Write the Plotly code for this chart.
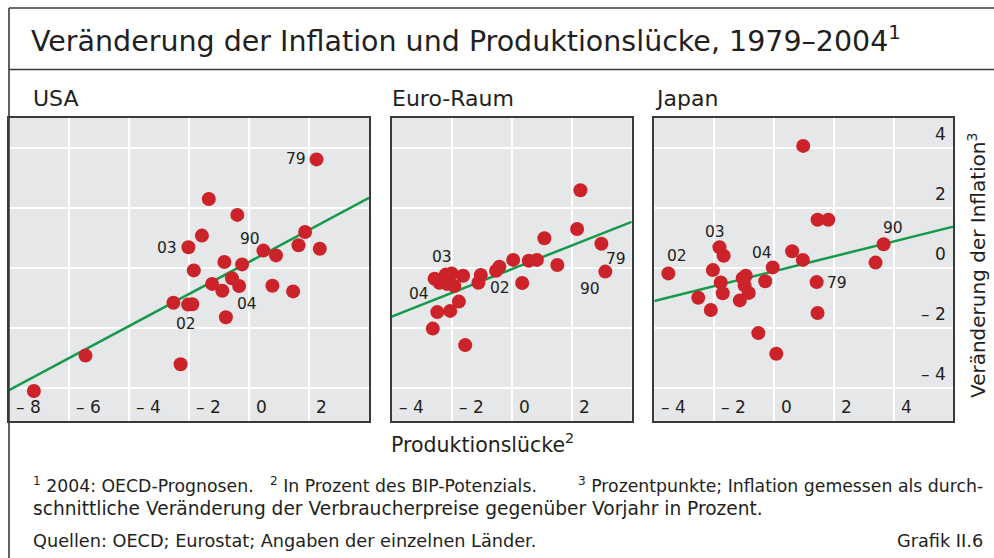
import plotly.graph_objects as go

# ---------------- data ----------------
usa_gap = [2.25, -1.34, -0.39, -1.57, -2.02, 1.87, 1.65, 2.36, 0.48, 0.90, -0.82, -0.23, -1.84,
           -0.57, -1.23, -0.33, -0.89, 0.78, 1.47, -2.52, -2.03, -1.89, -0.77, -5.45, -2.28, -7.17]
usa_infl = [3.61, 2.29, 1.76, 1.07, 0.68, 1.19, 0.75, 0.63, 0.57, 0.41, 0.19, 0.11, -0.09,
            -0.35, -0.54, -0.61, -0.77, -0.60, -0.79, -1.17, -1.23, -1.22, -1.65, -2.93, -3.22, -4.11]
usa_labels = {"79": 0, "03": 4, "90": 8, "04": 15, "02": 20}
usa_fit = (0.19, 0.534)   # intercept, slope

euro_gap = [2.29, 2.18, 2.99, 3.12, 1.09, 1.52, 0.84, 0.57, 0.05, 0.35, -0.41, -0.52, -1.03,
            -1.11, -1.62, -2.00, -2.20, -2.57, -2.41, -2.16, -1.91, -1.76, -2.05, -2.48, -2.63, -1.55]
euro_infl = [2.58, 1.29, 0.80, -0.13, 0.98, 0.09, 0.26, 0.23, 0.26, -0.51, 0.03, -0.10, -0.24,
             -0.50, -0.27, -0.19, -0.23, -0.37, -0.50, -0.54, -0.61, -1.13, -1.44, -1.48, -2.03, -2.58]
euro_labels = {"79": 2, "90": 3, "02": 11, "03": 16, "04": 17}
euro_fit = (-0.05, 0.395)

japan_gap = [0.98, 1.46, 1.82, 3.67, 3.40, 0.61, 0.97, -0.04, -0.29, 1.43, 1.46, -0.52, 0.08,
             -1.82, -1.68, -2.04, -3.53, -1.78, -1.71, -0.94, -1.04, -0.98, -0.84, -1.14, -2.53, -2.11]
japan_infl = [4.06, 1.60, 1.60, 0.78, 0.17, 0.55, 0.26, 0.01, -0.45, -0.48, -1.51, -2.18, -2.87,
              0.68, 0.40, -0.08, -0.19, -0.49, -0.85, -0.27, -0.35, -0.59, -0.84, -1.09, -1.00, -1.41]
japan_labels = {"90": 3, "04": 7, "79": 9, "03": 13, "02": 16}
japan_fit = (-0.12, 0.248)

usa_xticks = [-8, -6, -4, -2, 0, 2]
euro_xticks = [-4, -2, 0, 2]
japan_xticks = [-4, -2, 0, 2, 4]
yticks = [-4, -2, 0, 2, 4]

panel_titles = ["USA", "Euro-Raum", "Japan"]
title = "Veränderung der Inflation und Produktionslücke, 1979–2004<sup>1</sup>"
x_title = "Produktionslücke<sup>2</sup>"
y_title = "Veränderung der Inflation<sup>3</sup>"
foot1a = "<sup>1</sup> 2004: OECD-Prognosen."
foot1b = "<sup>2</sup> In Prozent des BIP-Potenzials."
foot1c = "<sup>3</sup> Prozentpunkte; Inflation gemessen als durch-"
foot2 = "schnittliche Veränderung der Verbraucherpreise gegenüber Vorjahr in Prozent."
foot3 = "Quellen: OECD; Eurostat; Angaben der einzelnen Länder."
foot4 = "Grafik II.6"

# ---------------- styling / layout ----------------
W, H = 994, 558
FONT = "DejaVu Sans, Verdana, sans-serif"
RED = "#cc2229"
GREEN = "#15994a"
TXT = "#231f20"
FRAME = "#3a3a3a"

x_ranges = [(-8, 4), (-4, 4), (-4, 6)]
x_domains = [(9, 369), (391.7, 631.7), (654.3, 953.3)]
y_range = (-5.11, 4.99)
y_pix = (118, 421)  # top, bottom

TICK_SIZE = 17
LAB_SIZE = 15.5

# label offsets in pixels (dx, dy with dy positive = up)
label_off = [
    {"79": (-21, 0), "03": (-21, -1), "90": (-13, 12), "04": (8, -18), "02": (-2, -19)},
    {"79": (15, -15), "90": (-15, -17), "02": (4, -17), "03": (-4, 18), "04": (-16, -15)},
    {"90": (9, 16), "04": (-11, 14), "79": (20, -1), "03": (-4, 15), "02": (9, 17)},
]

panels = [
    (usa_gap, usa_infl, usa_labels, usa_fit, usa_xticks),
    (euro_gap, euro_infl, euro_labels, euro_fit, euro_xticks),
    (japan_gap, japan_infl, japan_labels, japan_fit, japan_xticks),
]


def px(x):
    return x / W


def py(y):
    return 1 - y / H


def fmt(v):
    return ("\u2013 " + str(abs(v))) if v < 0 else str(v)


fig = go.Figure()
annotations = []
layout_axes = {}

for i, (gx, gy, labs, fit, xt) in enumerate(panels):
    n = "" if i == 0 else str(i + 1)
    xa, ya = "x" + n, "y" + n
    x0, x1 = x_ranges[i]
    b0, b1 = fit
    fig.add_trace(go.Scatter(x=[x0, x1], y=[b0 + b1 * x0, b0 + b1 * x1], mode="lines",
                             line=dict(color=GREEN, width=2.5), xaxis=xa, yaxis=ya,
                             hoverinfo="skip", showlegend=False, cliponaxis=True))
    fig.add_trace(go.Scatter(x=gx, y=gy, mode="markers",
                             marker=dict(color=RED, size=14, line=dict(width=0)),
                             xaxis=xa, yaxis=ya, showlegend=False, cliponaxis=False))
    layout_axes["xaxis" + n] = dict(
        domain=[px(x_domains[i][0]), px(x_domains[i][1])], range=list(x_ranges[i]),
        tickvals=xt, showticklabels=False, ticks="", showgrid=True, gridcolor="white",
        gridwidth=1.6, zeroline=False, showline=True, mirror=True, linecolor=FRAME,
        linewidth=1.6, anchor=ya, fixedrange=True)
    layout_axes["yaxis" + n] = dict(
        domain=[py(y_pix[1]), py(y_pix[0])], range=list(y_range), tickvals=yticks,
        showticklabels=False, ticks="", showgrid=True, gridcolor="white", gridwidth=1.6,
        zeroline=False, showline=True, mirror=True, linecolor=FRAME, linewidth=1.6,
        anchor=xa, fixedrange=True)
    # x tick labels inside the panel, right of the gridline
    for v in xt:
        annotations.append(dict(x=v, xref=xa, y=0, yref=ya + " domain", text=fmt(v),
                                showarrow=False, xanchor="left", yanchor="middle",
                                xshift=5, yshift=14, font=dict(size=TICK_SIZE, color=TXT)))
    # point labels
    for lab, idx in labs.items():
        dx, dy = label_off[i][lab]
        annotations.append(dict(x=gx[idx], y=gy[idx], xref=xa, yref=ya, text=lab,
                                showarrow=False, xanchor="center", yanchor="middle",
                                xshift=dx, yshift=dy, font=dict(size=LAB_SIZE, color=TXT)))
    # panel title
    annotations.append(dict(x=px([31, 390, 653][i]), y=py(98), xref="paper", yref="paper",
                            text=panel_titles[i], showarrow=False, xanchor="left",
                            yanchor="middle", font=dict(size=22, color=TXT)))

# y tick labels on the Japan panel (right side, above gridlines)
for v in yticks:
    annotations.append(dict(x=1, xref="x3 domain", y=v, yref="y3", text=fmt(v),
                            showarrow=False, xanchor="right", yanchor="middle",
                            xshift=-5, yshift=14, font=dict(size=TICK_SIZE, color=TXT)))

annotations += [
    dict(x=px(29), y=py(38.5), text=title, xanchor="left", yanchor="middle",
         font=dict(size=28.5, color=TXT)),
    dict(x=px(389), y=py(443), text=x_title, xanchor="left", yanchor="middle",
         font=dict(size=20.5, color=TXT)),
    dict(x=px(977), y=py(266), text=y_title, xanchor="center", yanchor="middle",
         textangle=-90, font=dict(size=20, color=TXT)),
    dict(x=px(31), y=py(485), text=foot1a, xanchor="left", yanchor="middle",
         font=dict(size=17.3, color=TXT)),
    dict(x=px(539), y=py(485), text=foot1b, xanchor="right", yanchor="middle",
         font=dict(size=17.3, color=TXT)),
    dict(x=px(985), y=py(485), text=foot1c, xanchor="right", yanchor="middle",
         font=dict(size=17.3, color=TXT)),
    dict(x=px(31), y=py(508), text=foot2, xanchor="left", yanchor="middle",
         font=dict(size=18.6, color=TXT)),
    dict(x=px(31), y=py(541), text=foot3, xanchor="left", yanchor="middle",
         font=dict(size=17.7, color=TXT)),
    dict(x=px(985), y=py(541), text=foot4, xanchor="right", yanchor="middle",
         font=dict(size=17.7, color=TXT)),
]
for a in annotations[-9:]:
    a.update(xref="paper", yref="paper", showarrow=False)

shapes = [
    dict(type="line", xref="paper", yref="paper", x0=px(9), x1=1.01, y0=py(8), y1=py(8),
         line=dict(color=FRAME, width=1.6)),
    dict(type="line", xref="paper", yref="paper", x0=px(9), x1=1.01, y0=py(69.5), y1=py(69.5),
         line=dict(color=FRAME, width=1.6)),
    dict(type="line", xref="paper", yref="paper", x0=px(9), x1=px(9), y0=py(8), y1=-0.02,
         line=dict(color=FRAME, width=1.6)),
]

fig.update_layout(
    width=W, height=H, margin=dict(l=0, r=0, t=0, b=0),
    paper_bgcolor="white", plot_bgcolor="#e6e7e8",
    font=dict(family=FONT, color=TXT), showlegend=False,
    annotations=annotations, shapes=shapes, **layout_axes,
)

fig.write_html("out.html", config={"displayModeBar": False},
               post_script="document.body.style.margin='0px';document.body.style.overflow='hidden';")
